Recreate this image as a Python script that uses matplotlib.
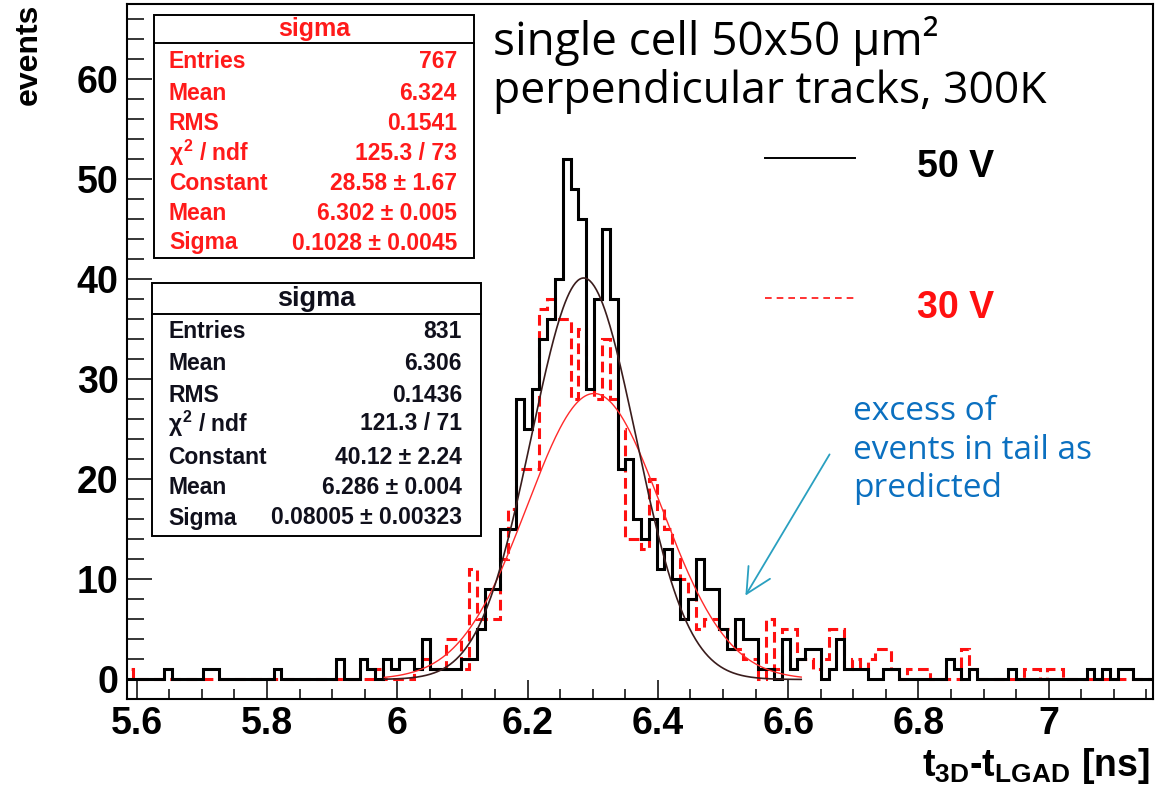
import numpy as np
import matplotlib
matplotlib.use('Agg')
import matplotlib.pyplot as plt
from matplotlib import font_manager as fm
from matplotlib.patches import Rectangle, FancyArrowPatch
from matplotlib.lines import Line2D
from matplotlib.ticker import MultipleLocator, FormatStrFormatter

# ---------------- data ----------------
bin_low = 5.582
bin_width = 0.012
counts_50V = [
    0, 0, 0, 0, 0, 1, 0, 0, 0, 0,
    1, 1, 0, 0, 0, 0, 0, 0, 0, 1,
    0, 0, 0, 0, 0, 0, 0, 2, 0, 0,
    2, 1, 0, 2, 1, 2, 2, 1, 4, 1,
    1, 1, 1, 2, 2, 5, 9, 9, 15, 15,
    28, 25, 29, 34, 36, 40, 52, 49, 46, 29,
    38, 45, 38, 21, 22, 16, 14, 16, 11, 13,
    10, 6, 8, 12, 9, 9, 5, 3, 6, 4,
    4, 1, 1, 0, 4, 1, 2, 3, 3, 0,
    1, 4, 1, 1, 1, 0, 0, 1, 1, 0,
    0, 0, 0, 0, 0, 2, 1, 0, 1, 0,
    0, 0, 0, 1, 0, 0, 0, 0, 0, 0,
    0, 0, 0, 1, 0, 1, 0, 1, 1, 0,
    0, 0,
]
counts_30V = [
    1, 0, 0, 0, 0, 0, 0, 0, 0, 0,
    0, 0, 0, 0, 0, 0, 0, 0, 0, 0,
    0, 0, 0, 0, 0, 0, 0, 0, 0, 0,
    0, 0, 1, 0, 0, 0, 0, 1, 2, 1,
    1, 4, 4, 1, 11, 6, 6, 6, 12, 17,
    21, 21, 21, 37, 38, 36, 36, 28, 35, 29,
    28, 34, 28, 25, 14, 14, 13, 20, 17, 15,
    12, 10, 8, 5, 6, 6, 5, 5, 3, 2,
    2, 0, 6, 1, 5, 5, 2, 2, 1, 2,
    5, 5, 1, 2, 1, 2, 3, 3, 1, 0,
    1, 1, 1, 0, 0, 0, 0, 3, 1, 0,
    0, 0, 0, 0, 0, 1, 1, 0, 1, 1,
    0, 0, 0, 0, 0, 0, 0, 0, 0, 0,
    0, 0,
]
fit_50V = (40.12, 6.286, 0.08005)   # constant, mean, sigma
fit_30V = (28.58, 6.302, 0.1028)
fit_range = (5.98, 6.62)

stats_labels = ['Entries', 'Mean', 'RMS', r'$\chi^2$ / ndf', 'Constant', 'Mean', 'Sigma']
stats_30V = ['767', '6.324', '0.1541', '125.3 / 73', '28.58 ± 1.67',
             '6.302 ± 0.005', '0.1028 ± 0.0045']
stats_50V = ['831', '6.306', '0.1436', '121.3 / 71', '40.12 ± 2.24',
             '6.286 ± 0.004', '0.08005 ± 0.00323']
legend_labels = ['50 V', '30 V']
title_lines = ['single cell 50x50 μm²', 'perpendicular tracks, 300K']
note_lines = ['excess of', 'events in tail as', 'predicted']

# ---------------- fonts ----------------
names = {f.name for f in fm.fontManager.ttflist}
if 'Liberation Sans Narrow' in names:
    NARROW, TICK_FS = 'Liberation Sans Narrow', 33
else:
    NARROW, TICK_FS = 'Liberation Sans', 27
plt.rcParams['mathtext.fontset'] = 'custom'
plt.rcParams['mathtext.rm'] = NARROW + ':bold'
plt.rcParams['mathtext.bf'] = NARROW + ':bold'
plt.rcParams['mathtext.it'] = NARROW + ':bold'

W, H = 1155, 793
def fx(px): return px / W
def fy(py): return 1 - py / H

fig = plt.figure(figsize=(W / 100, H / 100), dpi=100)
fig.patch.set_facecolor('white')
ax = fig.add_axes([fx(127), fy(699), (1153 - 127) / W, (699 - 4) / H])

edges = bin_low + bin_width * np.arange(len(counts_50V) + 1)
ax.stairs(counts_30V, edges, baseline=0, color='#ff1010', linewidth=2.2,
          linestyle=(0, (3.5, 1.8)), zorder=2)
ax.stairs(counts_50V, edges, baseline=0, color='black', linewidth=2.2, zorder=3)

xf = np.linspace(fit_range[0], fit_range[1], 400)
def gaus(p, x):
    return p[0] * np.exp(-0.5 * ((x - p[1]) / p[2]) ** 2)
ax.plot(xf, gaus(fit_30V, xf), color='#ff2a2a', lw=1.0, zorder=4)
ax.plot(xf, gaus(fit_50V, xf), color='#3a1c1c', lw=1.2, zorder=4)

ax.set_xlim(5.585, 7.16)
ax.set_ylim(-1.95, 67.5)
ax.xaxis.set_major_locator(MultipleLocator(0.2))
ax.xaxis.set_minor_locator(MultipleLocator(0.05))
ax.yaxis.set_major_locator(MultipleLocator(10))
ax.yaxis.set_minor_locator(MultipleLocator(2))
ax.xaxis.set_major_formatter(FormatStrFormatter('%g'))
ax.tick_params(axis='x', which='major', direction='in', length=14, width=1.1,
               pad=5, top=False)
ax.tick_params(axis='x', which='minor', direction='in', length=7, width=1.1, top=False)
ax.tick_params(axis='y', which='major', direction='in', length=18, width=1.1,
               pad=6, right=False)
ax.tick_params(axis='y', which='minor', direction='in', length=12, width=1.1, right=False)
for lab in ax.get_xticklabels() + ax.get_yticklabels():
    lab.set_fontfamily(NARROW)
    lab.set_fontweight('bold')
    lab.set_fontsize(TICK_FS)
for s in ax.spines.values():
    s.set_linewidth(1.5)

# axis titles
fig.text(fx(29), fy(54), 'events', rotation=90, ha='center', va='center',
         fontfamily=NARROW, fontweight='bold', fontsize=23)
fig.text(fx(1150), fy(776), r'$\mathrm{t}_{\mathrm{3D}}\mathrm{\text{-}t}_{\mathrm{LGAD}}\ \mathrm{[ns]}$',
         ha='right', va='baseline', fontsize=27)

# stats boxes
def stats_box(left, right, top, bottom, sep, title_y, title_fs, rows_y,
              lab_x, val_x, values, color):
    fig.add_artist(Rectangle((fx(left), fy(bottom)), (right - left) / W,
                             (bottom - top) / H, transform=fig.transFigure,
                             facecolor='white', edgecolor='black', lw=1.4, zorder=10))
    fig.add_artist(Line2D([fx(left), fx(right)], [fy(sep), fy(sep)],
                          transform=fig.transFigure, color='black', lw=1.4, zorder=11))
    fig.text(fx((left + right) / 2), fy(title_y), 'sigma', ha='center', va='center',
             color=color, fontfamily='Liberation Sans', fontweight='bold',
             fontsize=title_fs, zorder=12)
    for yy, lab, val in zip(rows_y, stats_labels, values):
        fig.text(fx(lab_x), fy(yy), lab, ha='left', va='center', color=color,
                 fontfamily='Liberation Sans', fontweight='bold', fontsize=16.5, zorder=12)
        fig.text(fx(val_x), fy(yy), val, ha='right', va='center', color=color,
                 fontfamily='Liberation Sans', fontweight='bold', fontsize=16.5, zorder=12)

stats_box(154, 474, 15, 258, 43, 29, 18, [62, 93, 123, 153, 183, 213, 243],
          169, 457, stats_30V, '#ff1a1a')
stats_box(152, 481, 283, 536, 314, 299, 19.5, [331, 363, 395, 424, 457, 488, 518],
          168, 462, stats_50V, '#10101c')

# title text
fig.text(fx(493), fy(55), title_lines[0], ha='left', va='baseline',
         fontfamily='Open Sans', fontsize=33, color='black')
fig.text(fx(493), fy(103), title_lines[1], ha='left', va='baseline',
         fontfamily='Open Sans', fontsize=32, color='black')

# legend
fig.add_artist(Line2D([fx(765), fx(855)], [fy(158), fy(158)], transform=fig.transFigure,
                      color='black', lw=1.4))
fig.add_artist(Line2D([fx(765), fx(855)], [fy(298), fy(298)], transform=fig.transFigure,
                      color='#ff1010', lw=1.2, linestyle=(0, (4, 3))))
fig.text(fx(917), fy(177), legend_labels[0], ha='left', va='baseline', color='black',
         fontfamily=NARROW, fontweight='bold', fontsize=TICK_FS)
fig.text(fx(917), fy(318), legend_labels[1], ha='left', va='baseline', color='#ff1010',
         fontfamily=NARROW, fontweight='bold', fontsize=TICK_FS)

# annotation
for yy, line in zip([420, 459, 497], note_lines):
    fig.text(fx(853), fy(yy), line, ha='left', va='baseline', color='#0b70c0',
             fontfamily='Open Sans', fontsize=24)
fig.add_artist(FancyArrowPatch((fx(831), fy(452)), (fx(744), fy(598)),
                               transform=fig.transFigure, arrowstyle='->,head_length=10,head_width=5',
                               color='#2aa0c0', lw=1.3, mutation_scale=1.8))

fig.savefig('out.png', dpi=100, facecolor='white')
